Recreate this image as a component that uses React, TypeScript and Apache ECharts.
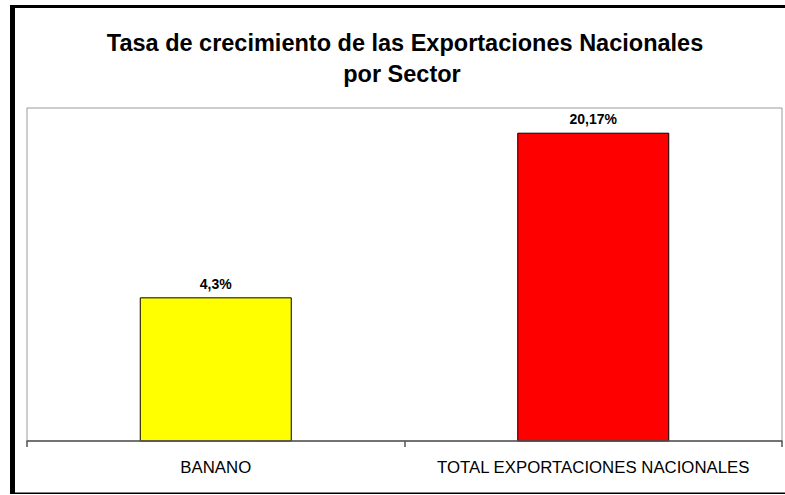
import React, { useEffect, useRef } from "react";
import * as echarts from "echarts";

const titleLines = ["Tasa de crecimiento de las Exportaciones Nacionales", "por Sector"];
const categories = ["BANANO", "TOTAL EXPORTACIONES NACIONALES"];
const growthValues = [4.3, 20.17];
const valueLabels = ["4,3%", "20,17%"];
const barColors = ["#FFFF00", "#FF0000"];
// the original value axis starts below zero; bars rise from the axis minimum
const AXIS_MIN = -9.5;
const AXIS_MAX = 22.6;

const FONT = "'Liberation Sans', Arial, Helvetica, sans-serif";

export default function App() {
  const ref = useRef<HTMLDivElement>(null);
  useEffect(() => {
    if (!ref.current) return;
    const chart = echarts.init(ref.current, undefined, { renderer: "svg" });
    chart.setOption({
      animation: false,
      backgroundColor: "#ffffff",
      grid: {
        left: 27,
        right: 3,
        top: 108,
        bottom: 54,
        show: true,
        borderColor: "#9a9a9a",
        borderWidth: 1,
        backgroundColor: "transparent",
      },
      xAxis: {
        type: "category",
        data: categories,
        z: 5,
        axisLine: { show: true, onZero: false, lineStyle: { color: "#555555", width: 1.5 } },
        axisTick: { show: true, length: 6, lineStyle: { color: "#555555", width: 1.5 } },
        axisLabel: { color: "#000000", fontFamily: FONT, fontSize: 16.8, margin: 18, interval: 0 },
        splitLine: { show: false },
      },
      yAxis: {
        type: "value",
        min: AXIS_MIN,
        max: AXIS_MAX,
        show: false,
        splitLine: { show: false },
      },
      series: [
        {
          type: "custom",
          data: growthValues.map((v, i) => [i, v]),
          encode: { x: 0, y: 1 },
          renderItem: (params: any, api: any) => {
            const i = api.value(0);
            const v = api.value(1);
            const top = api.coord([i, v]);
            const bottom = api.coord([i, AXIS_MIN]);
            const w = api.size([1, 0])[0] * 0.4;
            return {
              type: "group",
              children: [
                {
                  type: "rect",
                  shape: { x: top[0] - w / 2, y: top[1], width: w, height: bottom[1] - top[1] },
                  style: { fill: barColors[i], stroke: "#000000", lineWidth: 1 },
                },
                {
                  type: "text",
                  x: top[0],
                  y: top[1] - 7,
                  style: {
                    text: valueLabels[i],
                    fontFamily: FONT,
                    fontSize: 14,
                    fontWeight: "bold",
                    fill: "#000000",
                    align: "center",
                    verticalAlign: "bottom",
                  },
                },
              ],
            };
          },
        },
      ],
      graphic: [
        { type: "rect", shape: { x: 10, y: 5, width: 775, height: 3 }, style: { fill: "#000" } },
        { type: "rect", shape: { x: 10, y: 5, width: 5, height: 489 }, style: { fill: "#000" } },
        { type: "rect", shape: { x: 10, y: 492.5, width: 775, height: 1.5 }, style: { fill: "#000" } },
        {
          type: "text",
          x: 405,
          y: 43,
          style: {
            text: titleLines[0],
            fontFamily: FONT,
            fontSize: 23.5,
            fontWeight: "bold",
            fill: "#000",
            align: "center",
            verticalAlign: "middle",
          },
        },
        {
          type: "text",
          x: 402,
          y: 73.5,
          style: {
            text: titleLines[1],
            fontFamily: FONT,
            fontSize: 23.5,
            fontWeight: "bold",
            fill: "#000",
            align: "center",
            verticalAlign: "middle",
          },
        },
      ],
    });
    return () => chart.dispose();
  }, []);
  return (
    <div
      ref={ref}
      style={{ position: "absolute", left: 0, top: 0, width: 785, height: 495 }}
    />
  );
}
